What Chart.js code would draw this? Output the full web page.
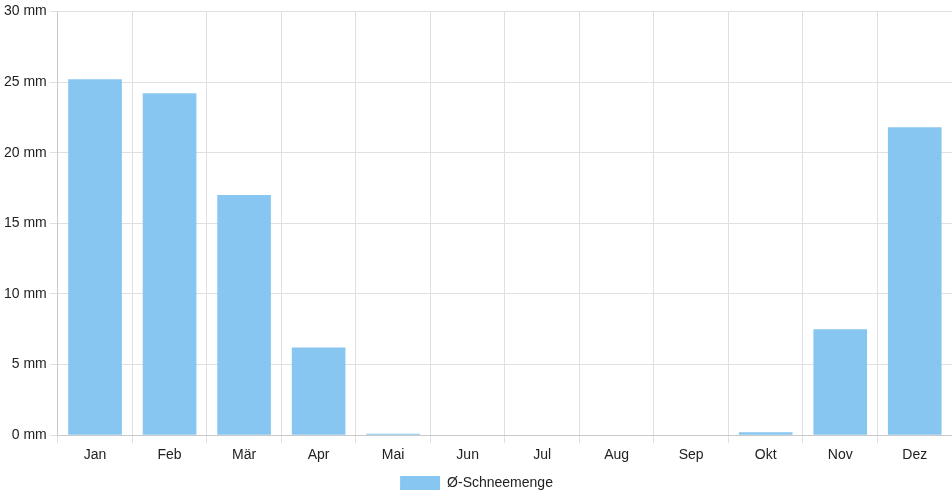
<!DOCTYPE html>
<html>
<head>
<meta charset="utf-8">
<script src="https://cdn.jsdelivr.net/npm/chart.js@4/dist/chart.umd.min.js"></script>
<style>
  html, body { margin: 0; padding: 0; background: #fff; }
  #wrap { width: 952px; height: 500px; }
</style>
</head>
<body>
<div id="wrap"><canvas id="snowChart"></canvas></div>
<script>
// Monthly labels and average snowfall (mm)
const months = ['Jan', 'Feb', 'Mär', 'Apr', 'Mai', 'Jun', 'Jul', 'Aug', 'Sep', 'Okt', 'Nov', 'Dez'];
const snowAmounts = [25.2, 24.2, 17.0, 6.2, 0.1, 0, 0, 0, 0, 0.2, 7.5, 21.8];
const seriesLabel = 'Ø-Schneemenge';

Chart.defaults.font.family = '"Liberation Sans", Arial, sans-serif';
Chart.defaults.font.size = 14;
Chart.defaults.color = '#222';

const ctx = document.getElementById('snowChart').getContext('2d');
new Chart(ctx, {
    type: 'bar',
    data: {
        labels: months,
        datasets: [{
            label: seriesLabel,
            data: snowAmounts,
            backgroundColor: '#88c6f2',
            borderWidth: 0
        }]
    },
    options: {
        responsive: true,
        maintainAspectRatio: false,
        animation: false,
        layout: { padding: { top: 4, right: 0, left: 1 } },
        plugins: {
            legend: {
                position: 'bottom',
                labels: { boxWidth: 40, boxHeight: 14, padding: 8 }
            },
            tooltip: { enabled: false }
        },
        scales: {
            x: {
                grid: { color: '#e0e0e0' },
                ticks: { padding: 4 }
            },
            y: {
                min: 0,
                max: 30,
                grid: { color: '#e0e0e0' },
                ticks: {
                    stepSize: 5,
                    callback: (v) => v + ' mm'
                }
            }
        }
    }
});
</script>
</body>
</html>
